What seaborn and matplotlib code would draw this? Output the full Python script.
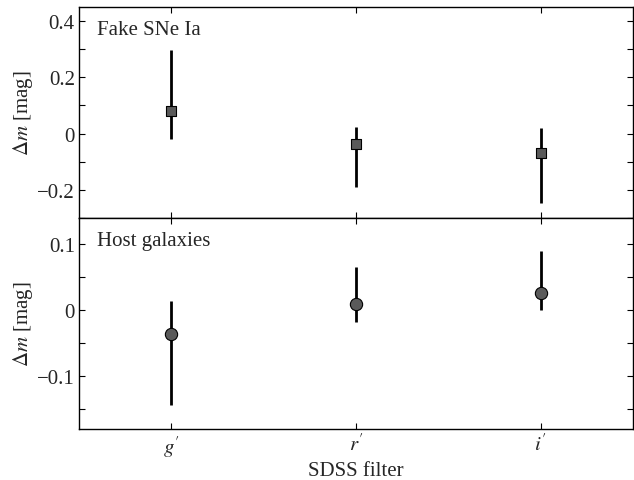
import numpy as np
import pandas as pd
import matplotlib
matplotlib.use("Agg")
import matplotlib.pyplot as plt
import seaborn as sns
from matplotlib.ticker import MultipleLocator

filters = ["g'", "r'", "i'"]
filter_labels = [r"$g^{\prime}$", r"$r^{\prime}$", r"$i^{\prime}$"]
xpos = [1, 2, 3]

sne_dm = [0.081, -0.038, -0.069]
sne_err_lo = [0.101, 0.152, 0.178]
sne_err_hi = [0.216, 0.061, 0.088]

host_dm = [-0.036, 0.010, 0.026]
host_err_lo = [0.108, 0.028, 0.026]
host_err_hi = [0.050, 0.055, 0.064]

sns.set_style("ticks")
plt.rcParams["font.family"] = ["Liberation Serif", "DejaVu Serif"]
plt.rcParams["mathtext.fontset"] = "stix"
plt.rcParams["font.size"] = 15
plt.rcParams["axes.linewidth"] = 1.0
plt.rcParams["xtick.direction"] = "in"
plt.rcParams["ytick.direction"] = "in"

fig = plt.figure(figsize=(6.34, 4.81), dpi=100)
ax1 = fig.add_axes([79/634, (481-219)/481, (633-79)/634, (219-8)/481])
ax2 = fig.add_axes([79/634, (481-430)/481, (633-79)/634, (430-219)/481], sharex=ax1)

sne = pd.DataFrame({"x": xpos, "dm": sne_dm})
host = pd.DataFrame({"x": xpos, "dm": host_dm})

ax1.errorbar(xpos, sne_dm, yerr=[sne_err_lo, sne_err_hi], fmt="none",
             ecolor="black", elinewidth=2.0, capsize=0, zorder=2)
sns.scatterplot(data=sne, x="x", y="dm", ax=ax1, marker="s", s=60,
                color="#5a5a5a", edgecolor="black", linewidth=0.8, zorder=3)

ax2.errorbar(xpos, host_dm, yerr=[host_err_lo, host_err_hi], fmt="none",
             ecolor="black", elinewidth=2.0, capsize=0, zorder=2)
sns.scatterplot(data=host, x="x", y="dm", ax=ax2, marker="o", s=78,
                color="#5a5a5a", edgecolor="black", linewidth=0.8, zorder=3)

for ax in (ax1, ax2):
    ax.set_xlim(0.5, 3.5)
    for s in ax.spines.values():
        s.set_visible(True)
        s.set_color("black")
    ax.tick_params(which="both", top=True, right=True, direction="in",
                   color="black", labelsize=15, pad=3)
    ax.tick_params(which="major", length=4, width=0.8)
    ax.tick_params(which="minor", length=4, width=0.8)
    ax.set_ylabel(r"$\Delta m$ [mag]", fontsize=15)

ax1.set_ylim(-0.3, 0.45)
ax1.yaxis.set_minor_locator(MultipleLocator(0.1))
ax1.set_yticks([-0.2, 0, 0.2, 0.4])
ax1.set_yticklabels(["\u22120.2", "0", "0.2", "0.4"])
ax1.tick_params(labelbottom=False)
ax1.set_xlabel("")
ax1.text(0.032, 0.94, "Fake SNe Ia", transform=ax1.transAxes, ha="left", va="top", fontsize=15)

ax2.set_ylim(-0.18, 0.14)
ax2.yaxis.set_minor_locator(MultipleLocator(0.05))
ax2.set_yticks([-0.1, 0, 0.1])
ax2.set_yticklabels(["\u22120.1", "0", "0.1"])
ax2.set_xticks(xpos)
ax2.set_xticklabels(filter_labels, fontsize=15)
ax2.set_xlabel("SDSS filter", fontsize=15, labelpad=2)
ax2.text(0.032, 0.94, "Host galaxies", transform=ax2.transAxes, ha="left", va="top", fontsize=15)

ax1.yaxis.set_label_coords(-0.08, 0.5)
ax2.yaxis.set_label_coords(-0.08, 0.5)

fig.savefig("out.png", dpi=100)
